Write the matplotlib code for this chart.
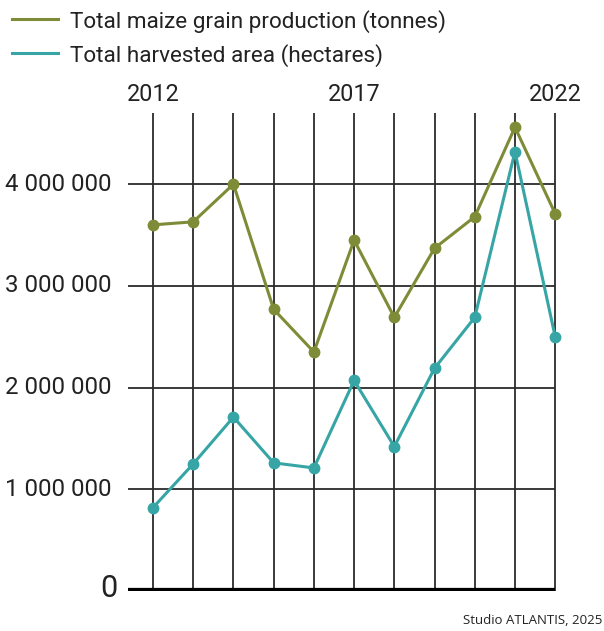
import matplotlib.pyplot as plt
from matplotlib.lines import Line2D

years = list(range(2012, 2023))
production = [3.60e6, 3.63e6, 4.00e6, 2.77e6, 2.35e6, 3.45e6, 2.69e6, 3.37e6, 3.68e6, 4.56e6, 3.71e6]
harvested = [0.82e6, 1.25e6, 1.71e6, 1.26e6, 1.21e6, 2.07e6, 1.42e6, 2.19e6, 2.69e6, 4.32e6, 2.50e6]
year_labels = [2012, 2017, 2022]
y_ticks = [1e6, 2e6, 3e6, 4e6]
y_tick_labels = ["1 000 000", "2 000 000", "3 000 000", "4 000 000"]
series_names = ["Total maize grain production (tonnes)",
                "Total harvested area (hectares)"]

green = "#7e8c37"
teal = "#37a5a5"
grid_col = "#2b2b2b"
text_col = "#222222"

plt.rcParams['font.family'] = ['Roboto', 'DejaVu Sans']

W, H = 604, 631
fig = plt.figure(figsize=(W / 100, H / 100), dpi=100)
ax = fig.add_axes([128 / W, 40 / H, 428 / W, 478 / H])
x_left = 2012 - 25 / 40.2
ax.set_xlim(x_left, 2022.02)
ax.set_ylim(0, 4.70e6)
ax.axis("off")

# grid: one vertical line per year, horizontal lines per million
ax.vlines(years, 0, 4.70e6, color=grid_col, lw=1.3, zorder=1)
ax.hlines(y_ticks, x_left, 2022, color=grid_col, lw=1.3, zorder=1)
ax.hlines(0, x_left, 2022, color="black", lw=4.5, zorder=2)

ax.plot(years, production, color=green, lw=2.2, marker="o", ms=7.5,
        zorder=3, clip_on=False)
ax.plot(years, harvested, color=teal, lw=2.2, marker="o", ms=7.5,
        zorder=3, clip_on=False)

for yr in year_labels:
    ax.text(yr, 4.70e6 + 0.07e6, str(yr), ha="center", va="bottom",
            fontsize=16.8, color=text_col)

for v, lab in zip(y_ticks, y_tick_labels):
    ax.text(x_left - 0.4, v, lab, ha="right", va="center",
            fontsize=17.3, color=text_col)
ax.text(x_left - 0.27, 0.02e6, "0", ha="right", va="center",
        fontsize=22, color=text_col)

# legend drawn by hand at the top left
for i, (name, col) in enumerate(zip(series_names, [green, teal])):
    y = 1 - (19 + 34 * i) / H
    fig.add_artist(Line2D([12 / W, 58 / W], [y, y], color=col, lw=2.2))
    fig.text(70 / W, y, name, ha="left", va="center_baseline",
             fontsize=16.2, color=text_col)

fig.text(0.997, 0.017, "Studio ATLANTIS, 2025", ha="right", va="center",
         fontsize=9.5, family="Open Sans", color=text_col)

fig.savefig("out.png", dpi=100)
